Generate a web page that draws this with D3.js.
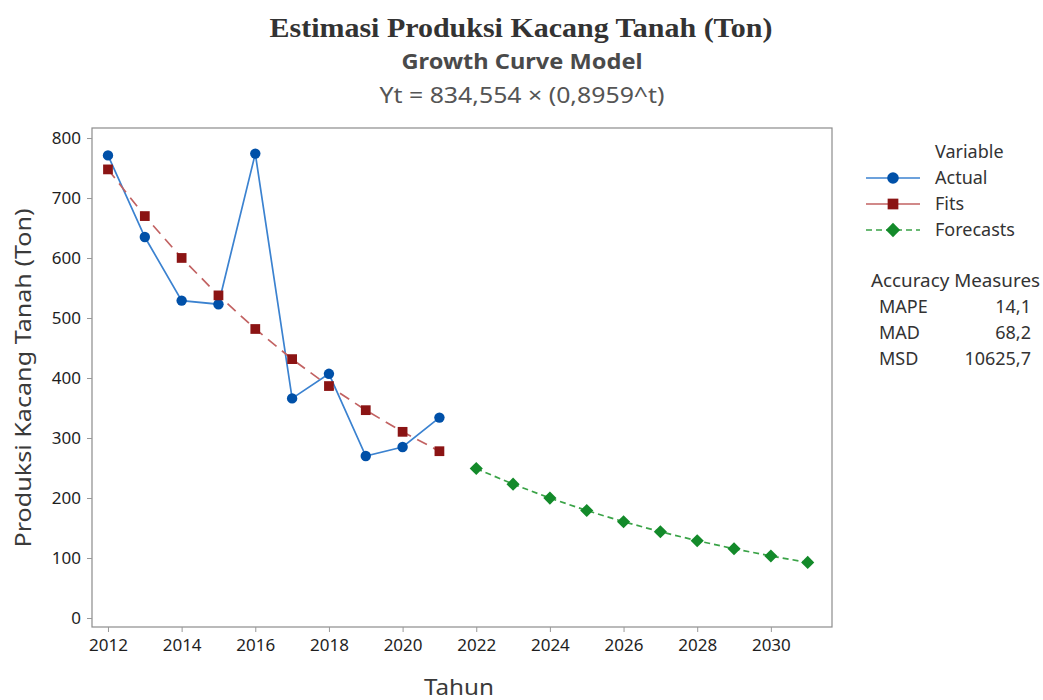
<!DOCTYPE html>
<html>
<head>
<meta charset="utf-8">
<script src="https://cdn.jsdelivr.net/npm/d3@7"></script>
<style>
  body { margin: 0; background: #fff; }
  text { font-family: "Noto Sans", "Open Sans", sans-serif; }
</style>
</head>
<body>
<svg width="1043" height="700"></svg>
<script>
// Data
const years = [2012, 2013, 2014, 2015, 2016, 2017, 2018, 2019, 2020, 2021];
const actual = [771, 635, 529, 523, 774, 366, 407, 270, 285, 334];
const fits = [747.7, 669.9, 600.1, 537.7, 481.7, 431.5, 386.6, 346.4, 310.3, 278.0];
const forecastYears = [2022, 2023, 2024, 2025, 2026, 2027, 2028, 2029, 2030, 2031];
const forecasts = [249.1, 223.1, 199.9, 179.1, 160.5, 143.8, 128.8, 115.4, 103.4, 92.6];
const xTicks = [2012, 2014, 2016, 2018, 2020, 2022, 2024, 2026, 2028, 2030];
const yTicks = [0, 100, 200, 300, 400, 500, 600, 700, 800];
const measureNames = ["MAPE", "MAD", "MSD"];
const measureValues = ["14,1", "68,2", "10625,7"];

const svg = d3.select("svg");

// plot frame
const plotL = 92, plotR = 832, plotT = 128, plotB = 627;

const x = d3.scaleLinear().domain([2011.566, 2031.66]).range([plotL, plotR]);
const y = d3.scaleLinear().domain([-15, 816.7]).range([plotB, plotT]);

// titles
svg.append("text")
    .attr("x", 521).attr("y", 37)
    .attr("text-anchor", "middle")
    .style("font-family", "'Liberation Serif', serif")
    .attr("font-weight", "bold")
    .attr("font-size", 27)
    .attr("fill", "#333")
    .attr("textLength", 503).attr("lengthAdjust", "spacingAndGlyphs")
    .text("Estimasi Produksi Kacang Tanah (Ton)");

svg.append("text")
    .attr("x", 522).attr("y", 69)
    .attr("text-anchor", "middle")
    .attr("font-weight", "bold")
    .attr("font-size", 21)
    .attr("fill", "#4a4a4a")
    .attr("textLength", 241).attr("lengthAdjust", "spacingAndGlyphs")
    .text("Growth Curve Model");

svg.append("text")
    .attr("x", 522).attr("y", 103)
    .attr("text-anchor", "middle")
    .attr("font-size", 21)
    .attr("fill", "#555")
    .attr("textLength", 285).attr("lengthAdjust", "spacingAndGlyphs")
    .text("Yt = 834,554 × (0,8959^t)");

// frame
svg.append("rect")
    .attr("x", plotL).attr("y", plotT)
    .attr("width", plotR - plotL).attr("height", plotB - plotT)
    .attr("fill", "none")
    .attr("stroke", "#8c8c8c")
    .attr("stroke-width", 1.2);

// axes
const xAxis = svg.append("g")
    .attr("transform", "translate(0," + plotB + ")")
    .call(d3.axisBottom(x).tickValues(xTicks).tickFormat(d3.format("d")).tickSize(5).tickPadding(7));
const yAxis = svg.append("g")
    .attr("transform", "translate(" + plotL + ",0)")
    .call(d3.axisLeft(y).tickValues(yTicks).tickSize(5).tickPadding(6));

[xAxis, yAxis].forEach(a => {
    a.select(".domain").remove();
    a.selectAll(".tick line").attr("stroke", "#999");
    a.selectAll(".tick text")
        .attr("fill", "#1e1e1e")
        .attr("font-size", 17)
        .style("font-family", "'Noto Sans', sans-serif");
});

// axis labels
svg.append("text")
    .attr("transform", "translate(31," + 378 + ") rotate(-90)")
    .attr("text-anchor", "middle")
    .attr("font-size", 22)
    .attr("fill", "#3a3a3a")
    .attr("textLength", 339).attr("lengthAdjust", "spacingAndGlyphs")
    .text("Produksi Kacang Tanah (Ton)");

svg.append("text")
    .attr("x", 459).attr("y", 695)
    .attr("text-anchor", "middle")
    .attr("font-size", 22)
    .attr("fill", "#3a3a3a")
    .attr("textLength", 70).attr("lengthAdjust", "spacingAndGlyphs")
    .text("Tahun");

// series
const line = d3.line().x(d => x(d[0])).y(d => y(d[1]));
const actualPts = years.map((yr, i) => [yr, actual[i]]);
const fitPts = years.map((yr, i) => [yr, fits[i]]);
const fcPts = forecastYears.map((yr, i) => [yr, forecasts[i]]);

const series = [
    { name: "Actual", pts: actualPts, line: "#3b82d0", marker: "#0050a8", dash: null, legDash: null, sym: d3.symbolCircle, size: 85 },
    { name: "Fits", pts: fitPts, line: "#c26262", marker: "#8b1414", dash: "11,7", legDash: null, sym: d3.symbolSquare, size: 95 },
    { name: "Forecasts", pts: fcPts, line: "#3aa347", marker: "#138a2a", dash: "6,4", legDash: "6,4", sym: d3.symbolDiamond2, size: 110 }
];

series.forEach(s => {
    svg.append("path")
        .datum(s.pts)
        .attr("d", line)
        .attr("fill", "none")
        .attr("stroke", s.line)
        .attr("stroke-width", 1.7)
        .attr("stroke-dasharray", s.dash);
});

series.forEach(s => {
    svg.append("g").selectAll("path")
        .data(s.pts)
        .join("path")
        .attr("transform", d => "translate(" + x(d[0]) + "," + y(d[1]) + ")")
        .attr("d", d3.symbol().type(s.sym).size(s.size))
        .attr("fill", s.marker);
});

// legend
const lg = svg.append("g");
const lgFont = 18;
lg.append("text")
    .attr("x", 935).attr("y", 158)
    .attr("font-size", lgFont)
    .attr("fill", "#333")
    .text("Variable");

series.forEach((s, i) => {
    const ly = 178 + i * 26;
    lg.append("line")
        .attr("x1", 866).attr("x2", 920)
        .attr("y1", ly).attr("y2", ly)
        .attr("stroke", s.line)
        .attr("stroke-width", 1.7)
        .attr("stroke-dasharray", s.legDash);
    lg.append("path")
        .attr("transform", "translate(893," + ly + ")")
        .attr("d", d3.symbol().type(s.sym).size(s.size + 20))
        .attr("fill", s.marker);
    lg.append("text")
        .attr("x", 935).attr("y", ly + 6)
        .attr("font-size", lgFont)
        .attr("fill", "#333")
        .text(s.name);
});

// accuracy measures
lg.append("text")
    .attr("x", 871).attr("y", 287)
    .attr("font-size", lgFont)
    .attr("fill", "#333")
    .attr("textLength", 169).attr("lengthAdjust", "spacingAndGlyphs")
    .text("Accuracy Measures");

measureNames.forEach((m, i) => {
    const ty = 313 + i * 26;
    lg.append("text")
        .attr("x", 879).attr("y", ty)
        .attr("font-size", lgFont)
        .attr("fill", "#333")
        .text(m);
    lg.append("text")
        .attr("x", 1031).attr("y", ty)
        .attr("text-anchor", "end")
        .attr("font-size", lgFont)
        .attr("fill", "#333")
        .text(measureValues[i]);
});
</script>
</body>
</html>
